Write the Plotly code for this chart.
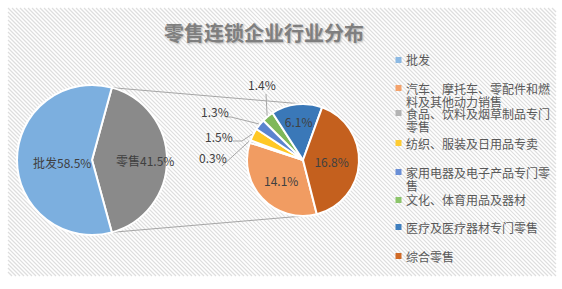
import math
import plotly.graph_objects as go

W, H = 562, 289

# ---------------- data ----------------
title_text = "零售连锁企业行业分布"
main_labels = ["零售", "批发"]
main_values = [41.5, 58.5]
main_colors = ["#8a8a8a", "#7cafdf"]

sub_labels = ["汽车、摩托车、零配件和燃料及其他动力销售",
              "食品、饮料及烟草制品专门零售",
              "纺织、服装及日用品专卖",
              "家用电器及电子产品专门零售",
              "文化、体育用品及器材",
              "医疗及医疗器材专门零售",
              "综合零售"]
sub_values = [14.1, 0.3, 1.5, 1.3, 1.4, 6.1, 16.8]
sub_colors = ["#f19c62", "#a5a5a5", "#ffc825", "#5b84cf", "#7fb85a", "#3a78b8", "#c4601e"]

legend_labels = ["批发"] + sub_labels
legend_colors = ["#8cb9e3", "#f4a26b", "#b4b4b4", "#ffcc33", "#6a8fd6", "#8cc56a", "#3f7fbf", "#d06a26"]

FONT = "Noto Sans CJK SC, Microsoft YaHei, sans-serif"
TXT = "#404040"


def px(x):
    return x / W


def py(y):
    return 1 - y / H


# ---------------- layout geometry ----------------
L_C, L_R = (92, 160), 75
R_C, R_R = (303, 160), 56

fig = go.Figure()

shapes = []
# hatched background
x0, y0, x1, y1 = 8, 8, 556, 276
c = x0 - y1
while c <= x1 - y0:
    ya = max(y0, x0 - c)
    yb = min(y1, x1 - c)
    if yb > ya:
        shapes.append(dict(type="line", xref="paper", yref="paper",
                           x0=px(ya + c), y0=py(ya), x1=px(yb + c), y1=py(yb),
                           line=dict(color="#dedede", width=1.2), layer="below"))
    c += 4

# main pie
main_rot = 90 - main_values[0] / sum(main_values) * 180
fig.add_trace(go.Pie(
    labels=main_labels, values=main_values, sort=False, direction="clockwise",
    rotation=main_rot,
    marker=dict(colors=main_colors, line=dict(color="white", width=2)),
    textinfo="none",
    domain=dict(x=[px(L_C[0] - L_R), px(L_C[0] + L_R)], y=[py(L_C[1] + L_R), py(L_C[1] - L_R)]),
    showlegend=False, hoverinfo="label+percent",
))

# sub pie
sub_total = sum(sub_values)
sub_rot = 165.7
inside = [v >= 5 for v in sub_values]
fig.add_trace(go.Pie(
    labels=sub_labels, values=sub_values, sort=False, direction="clockwise",
    rotation=sub_rot,
    marker=dict(colors=sub_colors, line=dict(color="white", width=2)),
    text=[f"{v}%" if ins else "" for v, ins in zip(sub_values, inside)],
    texttemplate="%{text}", textposition=["inside" if i else "none" for i in inside],
    insidetextorientation="horizontal",
    textfont=dict(family=FONT, size=12, color=TXT),
    domain=dict(x=[px(R_C[0] - R_R), px(R_C[0] + R_R)], y=[py(R_C[1] + R_R), py(R_C[1] - R_R)]),
    showlegend=False, hoverinfo="label+value",
))

# connector lines between pies
a = math.radians(main_rot)
top_pt = (L_C[0] + L_R * math.sin(a), L_C[1] - L_R * math.cos(a))
bot_pt = (L_C[0] + L_R * math.sin(math.pi - a), L_C[1] - L_R * math.cos(math.pi - a))
for p0, p1 in [(top_pt, (R_C[0], R_C[1] - R_R)), (bot_pt, (R_C[0], R_C[1] + R_R))]:
    shapes.append(dict(type="line", xref="paper", yref="paper",
                       x0=px(p0[0]), y0=py(p0[1]), x1=px(p1[0]), y1=py(p1[1]),
                       line=dict(color="#a6a6a6", width=1), layer="below"))

annotations = []
# main pie labels
main_label_pos = [(145, 160), (62, 162)]
for lab, v, (lx, ly) in zip(main_labels, main_values, main_label_pos):
    annotations.append(dict(x=px(lx), y=py(ly), xref="paper", yref="paper",
                            xanchor="center", yanchor="middle",
                            text=f"{lab}{v}%", showarrow=False,
                            font=dict(family=FONT, size=12, color=TXT)))

# outside labels for small slices with leader lines
label_pos = {1: (213, 157), 2: (219, 136), 3: (215, 111), 4: (262, 84)}
leader_start = {1: [(222, 166)], 2: [(233, 141), (242, 141)], 3: [(226, 117), (231, 117)], 4: [(266, 94)]}
cum = 0
for i, v in enumerate(sub_values):
    mid = sub_rot + (cum + v / 2) / sub_total * 360
    cum += v
    if i in label_pos:
        lx, ly = label_pos[i]
        annotations.append(dict(x=px(lx), y=py(ly), xref="paper", yref="paper",
                                xanchor="center", yanchor="middle",
                                text=f"{v}%", showarrow=False,
                                font=dict(family=FONT, size=12, color=TXT)))
        m = math.radians(mid)
        ex, ey = R_C[0] + (R_R + 1) * math.sin(m), R_C[1] - (R_R + 1) * math.cos(m)
        pts = leader_start[i] + [(ex, ey)]
        path = "M " + " L ".join(f"{px(x)},{py(y)}" for x, y in pts)
        shapes.append(dict(type="path", xref="paper", yref="paper", path=path,
                           line=dict(color="#a6a6a6", width=1)))

# legend
item_y = [60, 88, 113, 143, 172, 200, 227, 256]
for lab, col, yy in zip(legend_labels, legend_colors, item_y):
    shapes.append(dict(type="rect", xref="paper", yref="paper",
                       x0=px(395.5), x1=px(401.5), y0=py(yy + 3), y1=py(yy - 3),
                       fillcolor=col, line=dict(width=0)))
    lines = [lab[k:k + 12] for k in range(0, len(lab), 12)]
    for j, ln in enumerate(lines):
        annotations.append(dict(x=px(404), y=py(yy + j * 13), xref="paper", yref="paper",
                                xanchor="left", yanchor="middle", text=ln, showarrow=False,
                                font=dict(family=FONT, size=12, color="#595959")))

fig.update_layout(
    width=W, height=H, margin=dict(l=0, r=0, t=0, b=0),
    paper_bgcolor="white", plot_bgcolor="white",
    title=dict(text=f"<b>{title_text}</b>", x=px(264), y=py(34), xanchor="center", yanchor="middle",
               font=dict(family=FONT, size=20, color="#7f7f7f", shadow="1px 1px 2px #b0b0b0")),
    shapes=shapes, annotations=annotations, showlegend=False,
)

fig.write_html("out.html")
